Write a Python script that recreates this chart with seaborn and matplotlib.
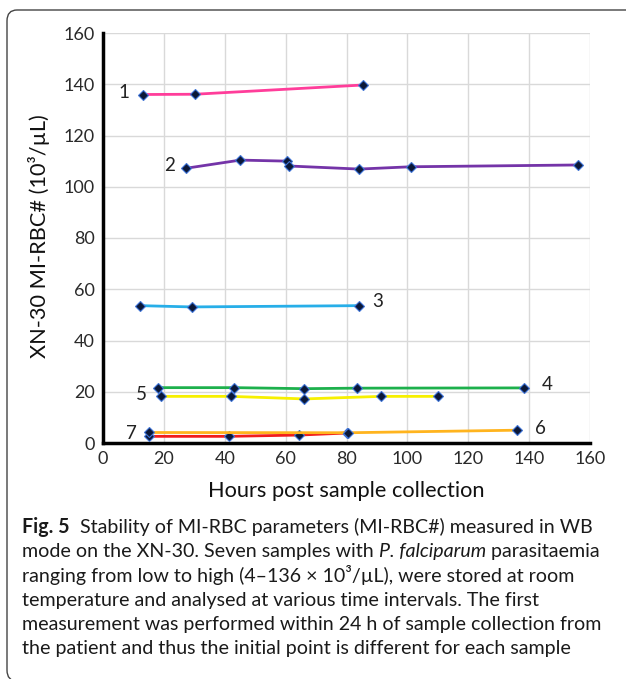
import matplotlib
matplotlib.use('Agg')
import matplotlib.pyplot as plt
import seaborn as sns
import pandas as pd
from matplotlib.patches import FancyBboxPatch

# ---- data ----
samples = ['1', '2', '3', '4', '5', '6', '7']
hours_1 = [13.2, 30.2, 85.3]
vals_1 = [136.0, 136.1, 139.7]
hours_2 = [27.2, 45.1, 60.3, 61.1, 84.1, 101.2, 156.0]
vals_2 = [107.2, 110.4, 110.0, 108.1, 106.9, 107.8, 108.5]
hours_3 = [12.2, 29.1, 84.1]
vals_3 = [53.6, 53.1, 53.6]
hours_4 = [18.2, 43.2, 66.2, 83.3, 138.3]
vals_4 = [21.6, 21.6, 21.2, 21.4, 21.5]
hours_5 = [19.0, 42.0, 66.2, 91.3, 110.1]
vals_5 = [18.2, 18.2, 17.2, 18.2, 18.2]
hours_6 = [15.2, 80.6, 136.1]
vals_6 = [4.1, 4.0, 5.0]
hours_7 = [15.2, 41.3, 64.4, 80.3]
vals_7 = [2.6, 2.6, 3.1, 3.9]
colors = ['#ff3d9a', '#7434a8', '#27aee8', '#1db04c', '#f7f000', '#ffb41e', '#f21c1c']
x_ticks = [0, 20, 40, 60, 80, 100, 120, 140, 160]
y_ticks = [0, 20, 40, 60, 80, 100, 120, 140, 160]
x_label = 'Hours post sample collection'
y_label = 'XN-30 MI-RBC# (10³/µL)'

hours = [hours_1, hours_2, hours_3, hours_4, hours_5, hours_6, hours_7]
vals = [vals_1, vals_2, vals_3, vals_4, vals_5, vals_6, vals_7]
rows = []
for s, hs, vs in zip(samples, hours, vals):
    for h, v in zip(hs, vs):
        rows.append({'sample': s, 'hours': h, 'value': v})
df = pd.DataFrame(rows)

sns.set_theme(style='white')
plt.rcParams['font.family'] = ['Lato', 'DejaVu Sans']

W, H = 626, 679
fig = plt.figure(figsize=(W / 100, H / 100), dpi=100)
ax = fig.add_axes([103 / W, 1 - 443 / H, (590 - 103) / W, (443 - 33) / H])

# draw order: 7 under 6
order = ['1', '2', '3', '4', '5', '7', '6']
pal = dict(zip(samples, colors))
for s in order:
    sub = df[df['sample'] == s]
    sns.lineplot(data=sub, x='hours', y='value', color=pal[s], lw=2.0,
                 marker='D', markersize=5, markerfacecolor='#0b1838',
                 markeredgecolor='#3f74d8', markeredgewidth=0.8,
                 estimator=None, sort=False, ax=ax, legend=False, zorder=3)

ax.set_xlim(0, 160)
ax.set_ylim(0, 160)
ax.set_xticks(x_ticks)
ax.set_yticks(y_ticks)
ax.grid(True, color='#d9d9d9', lw=1.0, zorder=0)
ax.set_axisbelow(True)
for sp in ['top', 'right']:
    ax.spines[sp].set_visible(False)
for sp in ['left', 'bottom']:
    ax.spines[sp].set_color('black')
    ax.spines[sp].set_linewidth(2.5)
ax.tick_params(axis='both', length=0, labelsize=13, colors='#2a2a2a', pad=6)
ax.set_xlabel(x_label, fontsize=15.7, color='#111111', labelpad=10)
ax.set_ylabel(y_label, fontsize=15.7, color='#111111')
ax.yaxis.set_label_coords((50 - 103) / 487, (443 - 236) / 410)

# sample number labels
label_pos = [(6.9, 136.6), (21.7, 108.3), (90.3, 55.2), (145.9, 22.8),
             (12.5, 19.0), (143.6, 5.6), (9.2, 3.6)]
for s, (lx, ly) in zip(samples, label_pos):
    ax.text(lx, ly, s, fontsize=13.5, color='#222222', ha='center', va='center')

# frame
frame = FancyBboxPatch((7 / W, -2 / H), (660 - 7) / W, (669 + 2) / H,
                       boxstyle='round,pad=0,rounding_size=0.016',
                       transform=fig.transFigure, fill=False,
                       edgecolor='#444444', lw=1.0)
fig.patches.append(frame)

# caption
cap_lines = [
    [('Fig. 5', 'bold', 'normal'), ('  Stability of MI-RBC parameters (MI-RBC#) measured in WB', 'normal', 'normal')],
    [('mode on the XN-30. Seven samples with ', 'normal', 'normal'), ('P. falciparum', 'normal', 'italic'), (' parasitaemia', 'normal', 'normal')],
    [('ranging from low to high (4–136 × 10³/µL), were stored at room', 'normal', 'normal')],
    [('temperature and analysed at various time intervals. The first', 'normal', 'normal')],
    [('measurement was performed within 24 h of sample collection from', 'normal', 'normal')],
    [('the patient and thus the initial point is different for each sample', 'normal', 'normal')],
]
baselines = [533, 557, 582, 606, 630, 654]

fig.canvas.draw()
renderer = fig.canvas.get_renderer()
probe = fig.text(0, 0, cap_lines[4][0][0], fontsize=12)
wpx = probe.get_window_extent(renderer).width
probe.remove()
fs = 12 * (600 - 22) / wpx

for line, yb in zip(cap_lines, baselines):
    x = 22
    for txt, wt, st in line:
        t = fig.text(x / W, 1 - yb / H, txt, fontsize=fs, fontweight=wt,
                     fontstyle=st, color='#1a1a1a', va='baseline', ha='left')
        x += t.get_window_extent(renderer).width

fig.savefig('out.png', dpi=100)
